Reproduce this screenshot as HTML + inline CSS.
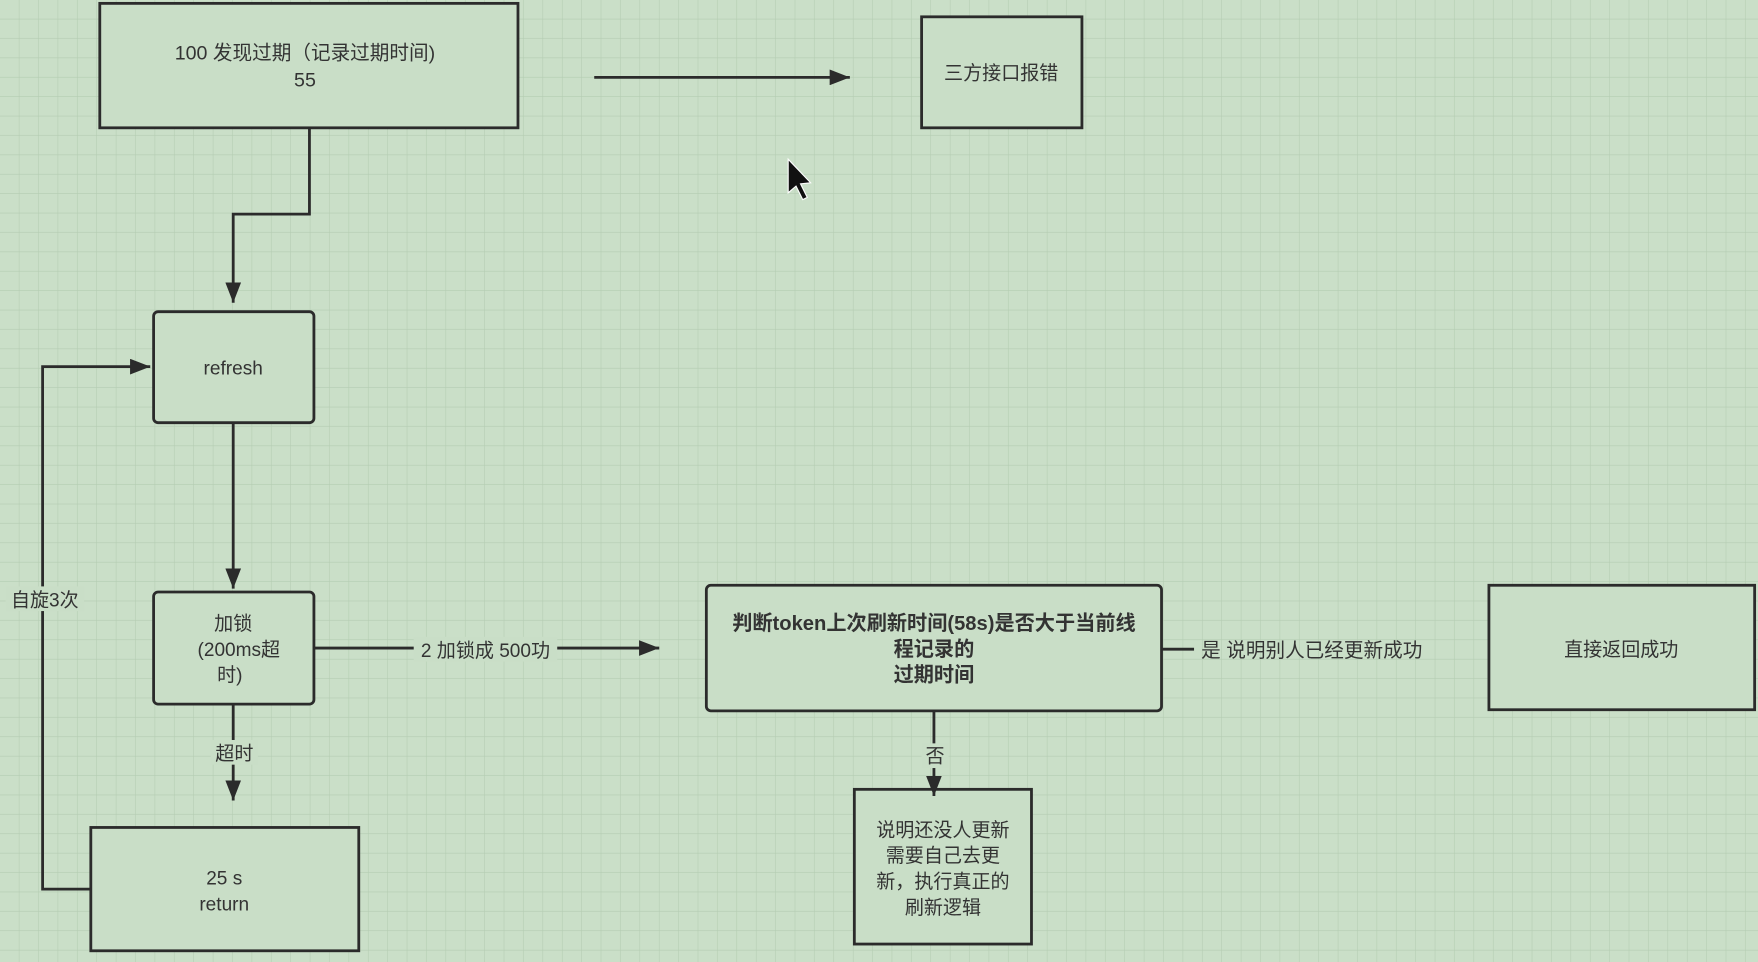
<!DOCTYPE html>
<html><head><meta charset="utf-8"><style>
html,body{margin:0;padding:0;width:1758px;height:962px;overflow:hidden;background:#cadfc8}
svg{display:block}
text{font-family:"Liberation Sans","Noto Sans CJK SC",sans-serif;font-size:17px;fill:#333;text-anchor:middle}
</style></head><body>
<svg width="1758" height="962" viewBox="0 0 1568 858" preserveAspectRatio="none">
<defs>
<pattern id="g" width="17.3" height="17.3" patternUnits="userSpaceOnUse">
<path d="M17.3 0V17.3H0" fill="none" stroke="#b4ccb2" stroke-width="1"/>
</pattern>
<marker id="b" viewBox="0 0 10 10" markerWidth="18" markerHeight="14" refX="10" refY="5" orient="auto" markerUnits="userSpaceOnUse" preserveAspectRatio="none">
<path d="M0 0L10 5L0 10z" fill="#2b2b2b"/>
</marker>
</defs>
<rect width="1568" height="858" fill="#cadfc8"/>
<rect width="1568" height="858" fill="url(#g)"/>
<g fill="#c9dec7" stroke="#2b2b2b" stroke-width="2.5">
<rect x="89" y="3" width="373" height="111"/>
<rect x="822" y="15" width="143" height="99"/>
<rect x="137" y="278" width="143" height="99" rx="4"/>
<rect x="137" y="528" width="143" height="100" rx="4"/>
<rect x="81" y="738" width="239" height="110"/>
<rect x="630" y="522" width="406" height="112" rx="4"/>
<rect x="1328" y="522" width="237" height="111"/>
<rect x="762" y="704" width="158" height="138"/>
</g>
<g fill="none" stroke="#2b2b2b" stroke-width="2.5">
<path d="M530 69H758" marker-end="url(#b)"/>
<path d="M276 114V191H208V270" marker-end="url(#b)"/>
<path d="M208 377V525" marker-end="url(#b)"/>
<path d="M280 578H588" marker-end="url(#b)"/>
<path d="M208 628V714" marker-end="url(#b)"/>
<path d="M81 793H38V327H134" marker-end="url(#b)"/>
<path d="M1036 579H1065"/>
<path d="M833 634V710" marker-end="url(#b)"/>
</g>
<g fill="#c9dec7">
<rect x="369" y="568" width="128" height="22"/>
<rect x="188" y="660" width="42" height="22"/>
<rect x="5" y="523" width="70" height="22"/>
<rect x="822" y="663" width="24" height="22"/>
</g>
<text x="272" y="53" style="font-size:17.5px">100 发现过期（记录过期时间)</text>
<text x="272" y="77" style="font-size:17.5px">55</text>
<text x="893" y="71">三方接口报错</text>
<text x="208" y="334">refresh</text>
<text x="208" y="562">加锁</text>
<text x="213" y="585">(200ms超</text>
<text x="205" y="608">时)</text>
<text x="433" y="586">2 加锁成 500功</text>
<text x="209" y="678">超时</text>
<text x="40" y="541">自旋3次</text>
<text x="200" y="789">25 s</text>
<text x="200" y="812">return</text>
<text x="833" y="562" style="font-weight:bold;font-size:18px">判断token上次刷新时间(58s)是否大于当前线</text>
<text x="833" y="585" style="font-weight:bold;font-size:18px">程记录的</text>
<text x="833" y="608" style="font-weight:bold;font-size:18px">过期时间</text>
<text x="1170" y="586" style="font-size:17.5px">是 说明别人已经更新成功</text>
<text x="1446" y="585">直接返回成功</text>
<text x="834" y="680">否</text>
<text x="841" y="746">说明还没人更新</text>
<text x="841" y="769">需要自己去更</text>
<text x="841" y="792">新，执行真正的</text>
<text x="841" y="815">刷新逻辑</text>
<path d="M703 142V172L710 166L716 178L720 176L714 164L723 163Z" fill="#111" stroke="#fff" stroke-width="1"/>
</svg>
</body></html>
